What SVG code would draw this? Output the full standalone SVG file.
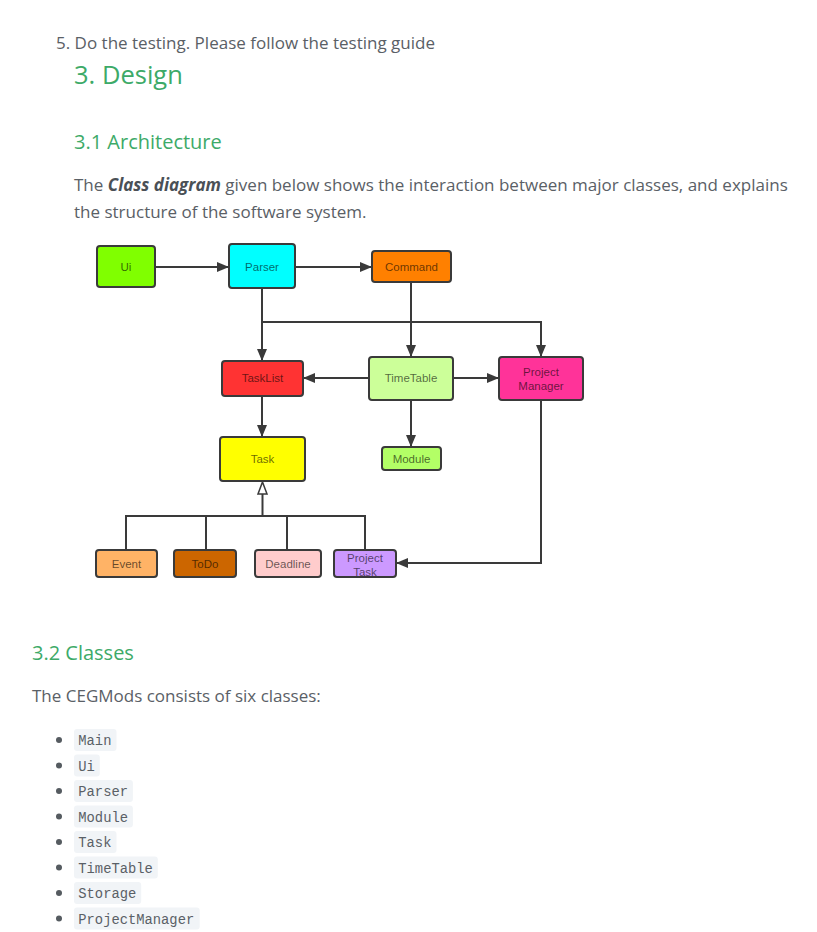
<svg xmlns="http://www.w3.org/2000/svg" width="817" height="932" viewBox="0 0 817 932">
<defs>
<style>
.body{font-family:"Open Sans","Noto Sans","Liberation Sans",sans-serif;fill:#5a6066;font-size:17px}
.h{font-family:"Open Sans","Noto Sans","Liberation Sans",sans-serif;fill:#3daa68}
.box{stroke:#3a3a3a;stroke-width:2}
.lbl{font-family:"Liberation Sans","Noto Sans",sans-serif;font-size:11.5px;fill:#000;fill-opacity:0.6;text-anchor:middle}
.ln{stroke:#3a3a3a;stroke-width:2;fill:none}
.code{font-family:"Liberation Mono","DejaVu Sans Mono",monospace;font-size:13.8px;fill:#5a6066}
.cbg{fill:#f1f4f7}
</style>
<marker id="arr" viewBox="0 0 12 10" refX="12" refY="5" markerWidth="12" markerHeight="10" markerUnits="userSpaceOnUse" orient="auto">
<path d="M0,0 L12,5 L0,10 Z" fill="#3a3a3a"/>
</marker>
</defs>
<rect width="817" height="932" fill="#ffffff"/>

<g id="page-text">
<text class="body" x="56" y="49">5. Do the testing. Please follow the testing guide</text>
<text class="h" x="74" y="84" font-size="25.5">3. Design</text>
<text class="h" x="74" y="149" font-size="20">3.1 Architecture</text>
<text class="body" x="74" y="191">The <tspan font-weight="bold" font-style="italic" fill="#4a5056">Class diagram</tspan> given below shows the interaction between major classes, and explains</text>
<text class="body" x="74" y="218">the structure of the software system.</text>
<text class="h" x="32" y="660" font-size="20">3.2 Classes</text>
<text class="body" x="32" y="702">The CEGMods consists of six classes:</text>
</g>

<g id="connectors">
<line class="ln" x1="155" y1="267" x2="229" y2="267" marker-end="url(#arr)"/>
<line class="ln" x1="295" y1="267" x2="372" y2="267" marker-end="url(#arr)"/>
<line class="ln" x1="262" y1="288" x2="262" y2="361" marker-end="url(#arr)"/>
<polyline class="ln" points="262,322 541,322 541,357" marker-end="url(#arr)"/>
<line class="ln" x1="411" y1="282" x2="411" y2="357" marker-end="url(#arr)"/>
<line class="ln" x1="369" y1="378" x2="303" y2="378" marker-end="url(#arr)"/>
<line class="ln" x1="453" y1="378" x2="499" y2="378" marker-end="url(#arr)"/>
<line class="ln" x1="411" y1="400" x2="411" y2="447" marker-end="url(#arr)"/>
<line class="ln" x1="262" y1="396" x2="262" y2="437" marker-end="url(#arr)"/>
<polyline class="ln" points="541,400 541,563 396,563" marker-end="url(#arr)"/>
<line class="ln" x1="262.5" y1="516" x2="262.5" y2="494"/>
<path d="M262.5,482 L267,494 L258,494 Z" fill="#ffffff" stroke="#3a3a3a" stroke-width="1.5"/>
<polyline class="ln" points="126,550 126,516 365,516 365,550"/>
<line class="ln" x1="206" y1="516" x2="206" y2="550"/>
<line class="ln" x1="287" y1="516" x2="287" y2="550"/>
</g>

<g id="Ui"><rect class="box" x="97" y="246" width="58" height="41" rx="3" fill="#80ff00"/><text class="lbl" x="126" y="271">Ui</text></g>
<g id="Parser"><rect class="box" x="229" y="244" width="66" height="44" rx="3" fill="#00ffff"/><text class="lbl" x="262" y="271">Parser</text></g>
<g id="Command"><rect class="box" x="372" y="251" width="79" height="31" rx="3" fill="#ff8000"/><text class="lbl" x="411.5" y="271">Command</text></g>
<g id="TaskList"><rect class="box" x="222" y="361" width="81" height="35" rx="3" fill="#ff3333"/><text class="lbl" x="262.5" y="382">TaskList</text></g>
<g id="TimeTable"><rect class="box" x="369" y="357" width="84" height="43" rx="3" fill="#ccff99"/><text class="lbl" x="411" y="382">TimeTable</text></g>
<g id="ProjectManager"><rect class="box" x="499" y="357" width="84" height="43" rx="3" fill="#ff3399"/><text class="lbl" x="541" y="376">Project</text><text class="lbl" x="541" y="389.5">Manager</text></g>
<g id="Module"><rect class="box" x="382" y="447" width="59" height="23" rx="3" fill="#b3ff66"/><text class="lbl" x="411.5" y="462.5">Module</text></g>
<g id="Task"><rect class="box" x="220" y="437" width="85" height="44" rx="3" fill="#ffff00"/><text class="lbl" x="262.5" y="463">Task</text></g>
<g id="Event"><rect class="box" x="96" y="550" width="61" height="27" rx="3" fill="#ffb366"/><text class="lbl" x="126.5" y="568">Event</text></g>
<g id="ToDo"><rect class="box" x="174" y="550" width="62" height="27" rx="3" fill="#cc6600"/><text class="lbl" x="205" y="568">ToDo</text></g>
<g id="Deadline"><rect class="box" x="255" y="550" width="66" height="27" rx="3" fill="#ffcccc"/><text class="lbl" x="288" y="568">Deadline</text></g>
<g id="ProjectTask"><rect class="box" x="334" y="550" width="62" height="27" rx="3" fill="#cc99ff"/><text class="lbl" x="365" y="561.5">Project</text><text class="lbl" x="365" y="575.5">Task</text></g>

<g id="class-list">
<g fill="#555b60">
<circle cx="59" cy="740" r="3"/>
<circle cx="59" cy="765.5" r="3"/>
<circle cx="59" cy="791" r="3"/>
<circle cx="59" cy="816.5" r="3"/>
<circle cx="59" cy="842" r="3"/>
<circle cx="59" cy="867.5" r="3"/>
<circle cx="59" cy="893" r="3"/>
<circle cx="59" cy="918.5" r="3"/>
</g>
<rect class="cbg" x="74" y="729" width="42.5" height="22" rx="3"/>
<rect class="cbg" x="74" y="754.5" width="25.8" height="22" rx="3"/>
<rect class="cbg" x="74" y="780" width="58.9" height="22" rx="3"/>
<rect class="cbg" x="74" y="805.5" width="58.9" height="22" rx="3"/>
<rect class="cbg" x="74" y="831" width="42.5" height="22" rx="3"/>
<rect class="cbg" x="74" y="856.5" width="83.8" height="22" rx="3"/>
<rect class="cbg" x="74" y="882" width="67.2" height="22" rx="3"/>
<rect class="cbg" x="74" y="907.5" width="125.7" height="22" rx="3"/>
<text class="code" x="78.3" y="745">Main</text>
<text class="code" x="78.3" y="770.5">Ui</text>
<text class="code" x="78.3" y="796">Parser</text>
<text class="code" x="78.3" y="821.5">Module</text>
<text class="code" x="78.3" y="847">Task</text>
<text class="code" x="78.3" y="872.5">TimeTable</text>
<text class="code" x="78.3" y="898">Storage</text>
<text class="code" x="78.3" y="923.5">ProjectManager</text>
</g>
</svg>
